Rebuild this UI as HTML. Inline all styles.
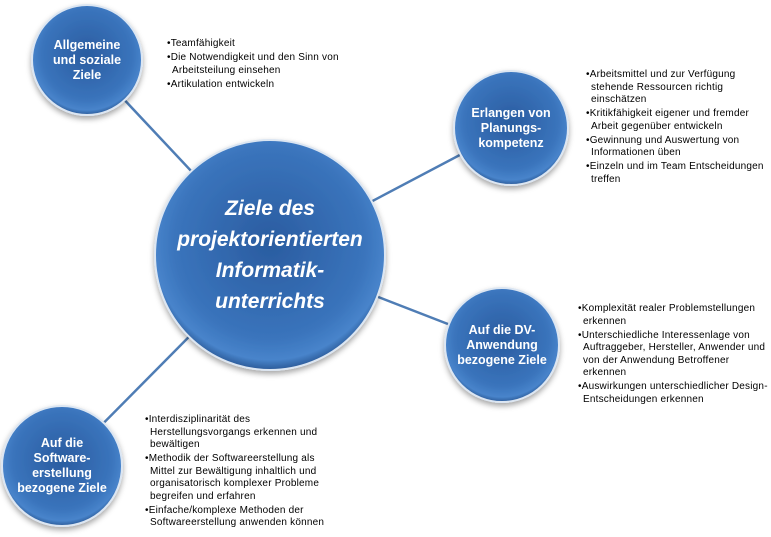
<!DOCTYPE html>
<html><head><meta charset="utf-8"><style>
body{margin:0;width:771px;height:537px;background:#fff;position:relative;overflow:hidden;font-family:"Liberation Sans",sans-serif}
.t{position:absolute;font-size:10px;line-height:12.5px;color:#000;letter-spacing:0.2px}
.t div{padding-left:5px;text-indent:-5px;margin-bottom:1.5px}
.c{position:absolute;color:#fff;font-weight:bold;text-align:center;display:flex;align-items:center;justify-content:center;font-size:12.5px;line-height:15px}
</style></head><body>
<svg width="771" height="537" style="position:absolute;left:0;top:0">
<defs>
<radialGradient id="g" cx="50%" cy="45%" r="55%">
<stop offset="0" stop-color="#2a5ca0"/><stop offset="0.75" stop-color="#3a74bc"/><stop offset="0.92" stop-color="#4884cb"/><stop offset="1" stop-color="#2b5a98"/>
</radialGradient>
<filter id="s" x="-20%" y="-20%" width="140%" height="140%"><feDropShadow dx="0" dy="3" stdDeviation="3" flood-color="#000" flood-opacity="0.35"/></filter>
</defs>
<g stroke="#4f7db5" stroke-width="2.5">
<line x1="87" y1="60" x2="270" y2="255"/>
<line x1="511" y1="128" x2="270" y2="255"/>
<line x1="502" y1="345" x2="270" y2="255"/>
<line x1="62" y1="465" x2="270" y2="255"/>
</g>
<g fill="url(#g)" stroke="#dce6f2" stroke-width="2" filter="url(#s)">
<circle cx="270" cy="255" r="115"/>
<circle cx="87" cy="60" r="55"/>
<circle cx="511" cy="128" r="57"/>
<circle cx="502" cy="345" r="57"/>
<circle cx="62" cy="466" r="60"/>
</g>
</svg>
<div class="c" style="left:155px;top:140px;width:230px;height:230px;font-size:21px;line-height:31px;font-style:italic">Ziele des<br>projektorientierten<br>Informatik-<br>unterrichts</div>
<div class="c" style="left:32px;top:5px;width:110px;height:110px">Allgemeine<br>und soziale<br>Ziele</div>
<div class="c" style="left:454px;top:71px;width:114px;height:114px">Erlangen von<br>Planungs-<br>kompetenz</div>
<div class="c" style="left:445px;top:288px;width:114px;height:114px">Auf die DV-<br>Anwendung<br>bezogene Ziele</div>
<div class="c" style="left:2px;top:406px;width:120px;height:120px">Auf die<br>Software-<br>erstellung<br>bezogene Ziele</div>
<div class="t" style="left:167px;top:38px;width:185px">
<div>•Teamfähigkeit</div><div>•Die Notwendigkeit und den Sinn von Arbeitsteilung einsehen</div><div>•Artikulation entwickeln</div></div>
<div class="t" style="left:586px;top:69px;width:182px">
<div>•Arbeitsmittel und zur Verfügung stehende Ressourcen richtig einschätzen</div><div>•Kritikfähigkeit eigener und fremder Arbeit gegenüber entwickeln</div><div>•Gewinnung und Auswertung von Informationen üben</div><div>•Einzeln und im Team  Entscheidungen treffen</div></div>
<div class="t" style="left:578px;top:303px;width:190px">
<div>•Komplexität realer Problemstellungen erkennen</div><div>•Unterschiedliche Interessenlage von Auftraggeber, Hersteller, Anwender und von der Anwendung  Betroffener erkennen</div><div>•Auswirkungen unterschiedlicher Design-Entscheidungen erkennen</div></div>
<div class="t" style="left:145px;top:414px;width:182px">
<div>•Interdisziplinarität des Herstellungsvorgangs erkennen und bewältigen</div><div>•Methodik der Softwareerstellung als Mittel zur Bewältigung inhaltlich und organisatorisch komplexer Probleme begreifen und erfahren</div><div>•Einfache/komplexe Methoden der Softwareerstellung anwenden können</div></div>
</body></html>
